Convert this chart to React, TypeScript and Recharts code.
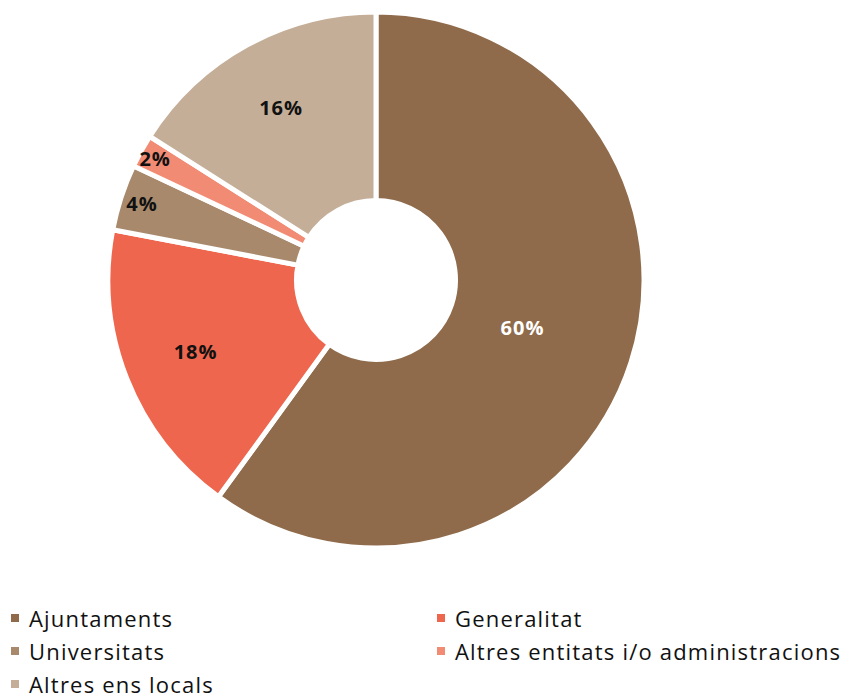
import { Legend, Pie, PieChart, Cell } from "recharts";

const CATEGORIES = [
  "Ajuntaments",
  "Generalitat",
  "Universitats",
  "Altres entitats i/o administracions",
  "Altres ens locals",
];
const SHARES = [60, 18, 4, 2, 16];

const COLORS = ["#8f6b4b", "#ee664d", "#a8896c", "#f28b73", "#c4ae98"];
const LABEL_COLORS = ["#ffffff", "#111111", "#111111", "#111111", "#111111"];
// distance of each label from the centre, like the original layout
const LABEL_RADIUS = [154, 194, 246, 252, 197];

const FONT = "'Open Sans', Lato, sans-serif";
const RAD = Math.PI / 180;

const data = CATEGORIES.map((name, i) => ({ name, value: SHARES[i] }));

function renderLabel(props: any) {
  const { cx, cy, midAngle, index, value } = props;
  const r = LABEL_RADIUS[index];
  const x = cx + r * Math.cos(-midAngle * RAD);
  const y = cy + r * Math.sin(-midAngle * RAD);
  return (
    <text
      x={x}
      y={y}
      fill={LABEL_COLORS[index]}
      textAnchor="middle"
      dominantBaseline="central"
      fontFamily={FONT}
      fontWeight={700}
      fontSize={20}
      letterSpacing={1}
    >
      {value}%
    </text>
  );
}

function renderLegend() {
  return (
    <div
      style={{
        display: "grid",
        gridTemplateColumns: "426px auto",
        rowGap: 11,
        fontFamily: FONT,
        fontSize: 22,
        letterSpacing: 1.2,
        color: "#111",
        lineHeight: "22px",
      }}
    >
      {data.map((d, i) => (
        <div key={d.name} style={{ display: "flex", alignItems: "center", whiteSpace: "nowrap" }}>
          <span
            style={{
              display: "inline-block",
              width: 8,
              height: 8,
              background: COLORS[i],
              marginRight: 10,
            }}
          />
          {d.name}
        </div>
      ))}
    </div>
  );
}

export default function App() {
  return (
    <PieChart width={840} height={687} margin={{ top: 0, right: 0, bottom: 0, left: 0 }}>
      <Pie
        data={data}
        dataKey="value"
        nameKey="name"
        cx={368}
        cy={272}
        innerRadius={79.5}
        outerRadius={268}
        startAngle={90}
        endAngle={-270}
        stroke="#ffffff"
        strokeWidth={5}
        label={renderLabel}
        labelLine={false}
        isAnimationActive={false}
      >
        {data.map((d, i) => (
          <Cell key={d.name} fill={COLORS[i]} />
        ))}
      </Pie>
      <Legend
        content={renderLegend}
        wrapperStyle={{ left: 3, top: 599, width: 837 }}
      />
    </PieChart>
  );
}
